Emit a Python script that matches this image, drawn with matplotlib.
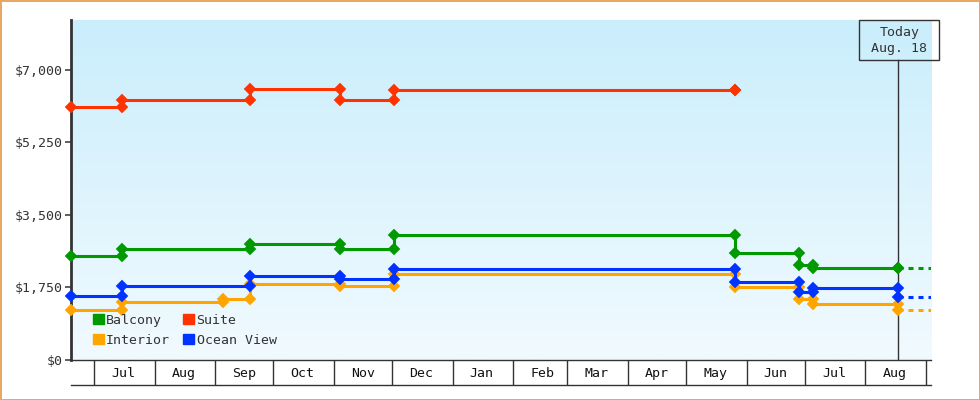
import matplotlib
matplotlib.use('Agg')
import matplotlib.pyplot as plt
import matplotlib.dates as mdates
from matplotlib.colors import LinearSegmentedColormap
from matplotlib.patches import Patch, Rectangle
from matplotlib.ticker import FuncFormatter
import numpy as np
import pandas as pd

plt.rcParams['font.family'] = ['DejaVu Sans Mono']
plt.rcParams['lines.scale_dashes'] = False

W, H, DPI = 980, 400, 100

today = pd.Timestamp('2023-08-18')
x_start = pd.Timestamp('2022-06-19')
x_end = pd.Timestamp('2023-09-03 18:00')

# price changes per cabin type (date of change -> new price)
balcony_dates = ['2022-06-19', '2022-07-15', '2022-09-19', '2022-11-04', '2022-12-02',
                 '2023-05-26', '2023-06-28', '2023-07-05', '2023-08-18']
balcony_prices = [2520, 2680, 2800, 2680, 3020, 2575, 2290, 2225, 2225]

suite_dates = ['2022-06-19', '2022-07-15', '2022-09-19', '2022-11-04', '2022-12-02', '2023-05-26']
suite_prices = [6100, 6276, 6534, 6276, 6510, 6510]

interior_dates = ['2022-06-19', '2022-07-15', '2022-09-05', '2022-09-19', '2022-11-04',
                  '2022-12-02', '2023-05-26', '2023-06-28', '2023-07-05', '2023-08-18']
interior_prices = [1207, 1400, 1465, 1839, 1793, 2064, 1769, 1465, 1340, 1200]

ocean_dates = ['2022-06-19', '2022-07-15', '2022-09-19', '2022-11-04', '2022-12-02',
               '2023-05-26', '2023-06-28', '2023-07-05', '2023-08-18']
ocean_prices = [1545, 1786, 2035, 1948, 2197, 1890, 1634, 1731, 1521]

series = [
    ('Interior', interior_dates, interior_prices, '#ffa500', True),
    ('Ocean View', ocean_dates, ocean_prices, '#0033ff', True),
    ('Balcony', balcony_dates, balcony_prices, '#009900', True),
    ('Suite', suite_dates, suite_prices, '#ff3300', False),
]

y_ticks = [0, 1750, 3500, 5250, 7000]
y_max = 8200

fig = plt.figure(figsize=(W / DPI, H / DPI), dpi=DPI)
ax = fig.add_axes([71 / W, 40 / H, 860 / W, 340 / H])

for name, dates, prices, color, ongoing in series:
    d = pd.to_datetime(dates)
    xs, ys = [d[0]], [prices[0]]
    for i in range(1, len(d)):
        xs += [d[i], d[i]]
        ys += [prices[i - 1], prices[i]]
    ax.plot(xs, ys, color=color, lw=2.2, marker='D', ms=5.0, mew=1.3,
            mec=color, clip_on=False, zorder=3, solid_joinstyle='miter')
    if ongoing:
        ax.plot([today, x_end + pd.Timedelta(days=5)], [prices[-1], prices[-1]],
                color=color, lw=2.2, dashes=(3.6, 3.6), zorder=3)

ax.set_xlim(x_start, x_end)
ax.set_ylim(0, y_max)

# gradient background
bg = LinearSegmentedColormap.from_list('bg', ['#caeefc', '#f1faff'])
ax.imshow(np.linspace(0, 1, 256).reshape(-1, 1), cmap=bg, aspect='auto',
          extent=[0, 1, 0, 1], transform=ax.transAxes, zorder=0)
ax.set_xlim(x_start, x_end)
ax.set_ylim(0, y_max)

for s in ['top', 'right']:
    ax.spines[s].set_visible(False)
ax.spines['left'].set_color('#333333')
ax.spines['left'].set_linewidth(2)
ax.spines['bottom'].set_color('#333333')
ax.spines['bottom'].set_linewidth(1)

ax.set_yticks(y_ticks)
ax.yaxis.set_major_formatter(FuncFormatter(lambda v, p: f'${v:,.0f}'))
ax.tick_params(axis='y', length=4.5, width=1.1, pad=1.5, colors='#333333',
               labelsize=9.5)

# month bands under the axis
ax.xaxis.set_major_locator(mdates.MonthLocator(bymonthday=1))
ax.xaxis.set_major_formatter(plt.NullFormatter())
ax.xaxis.set_minor_locator(mdates.MonthLocator(bymonthday=16))
ax.xaxis.set_minor_formatter(mdates.DateFormatter('%b'))
ax.tick_params(axis='x', which='major', length=18, width=1, color='#333333')
ax.tick_params(axis='x', which='minor', length=0, pad=5, labelsize=9.5,
               labelcolor='#111111')
ax.plot([0, 1], [-25 / 340, -25 / 340], transform=ax.transAxes, clip_on=False,
        color='#333333', lw=1)

# today marker
box_bottom = 60.3
ax.axvline(today, ymin=0, ymax=(360 - box_bottom) / 340, color='#333333', lw=1, zorder=2)
tx = ax.transData.transform((mdates.date2num(today), 0))[0] + 1
fig.patches.append(Rectangle(((tx - 40) / W, 1 - box_bottom / H), 80 / W, 40 / H,
                             transform=fig.transFigure, fill=False,
                             edgecolor='#333333', lw=1))
fig.text(tx / W, 1 - 40.5 / H, 'Today\n' + today.strftime('%b. %d'), ha='center',
         va='center', fontsize=9.5, color='#333333', linespacing=1.35)

# legend
handles = [Patch(color=c, label=n) for n, _, _, c, _ in
           [series[2], series[0], series[3], series[1]]]
ax.legend(handles=handles, ncol=2, loc='upper left', frameon=False,
          bbox_to_anchor=(93 / W, 1 - 314 / H), bbox_transform=fig.transFigure,
          borderpad=0, borderaxespad=0, handlelength=0.8, handleheight=0.8,
          handletextpad=0.2, columnspacing=1.0, labelspacing=0.5,
          fontsize=9.5, labelcolor='#333333')

fig.patch.set_edgecolor('#e8a862')
fig.patch.set_linewidth(2)

fig.savefig('out.png', dpi=DPI)
